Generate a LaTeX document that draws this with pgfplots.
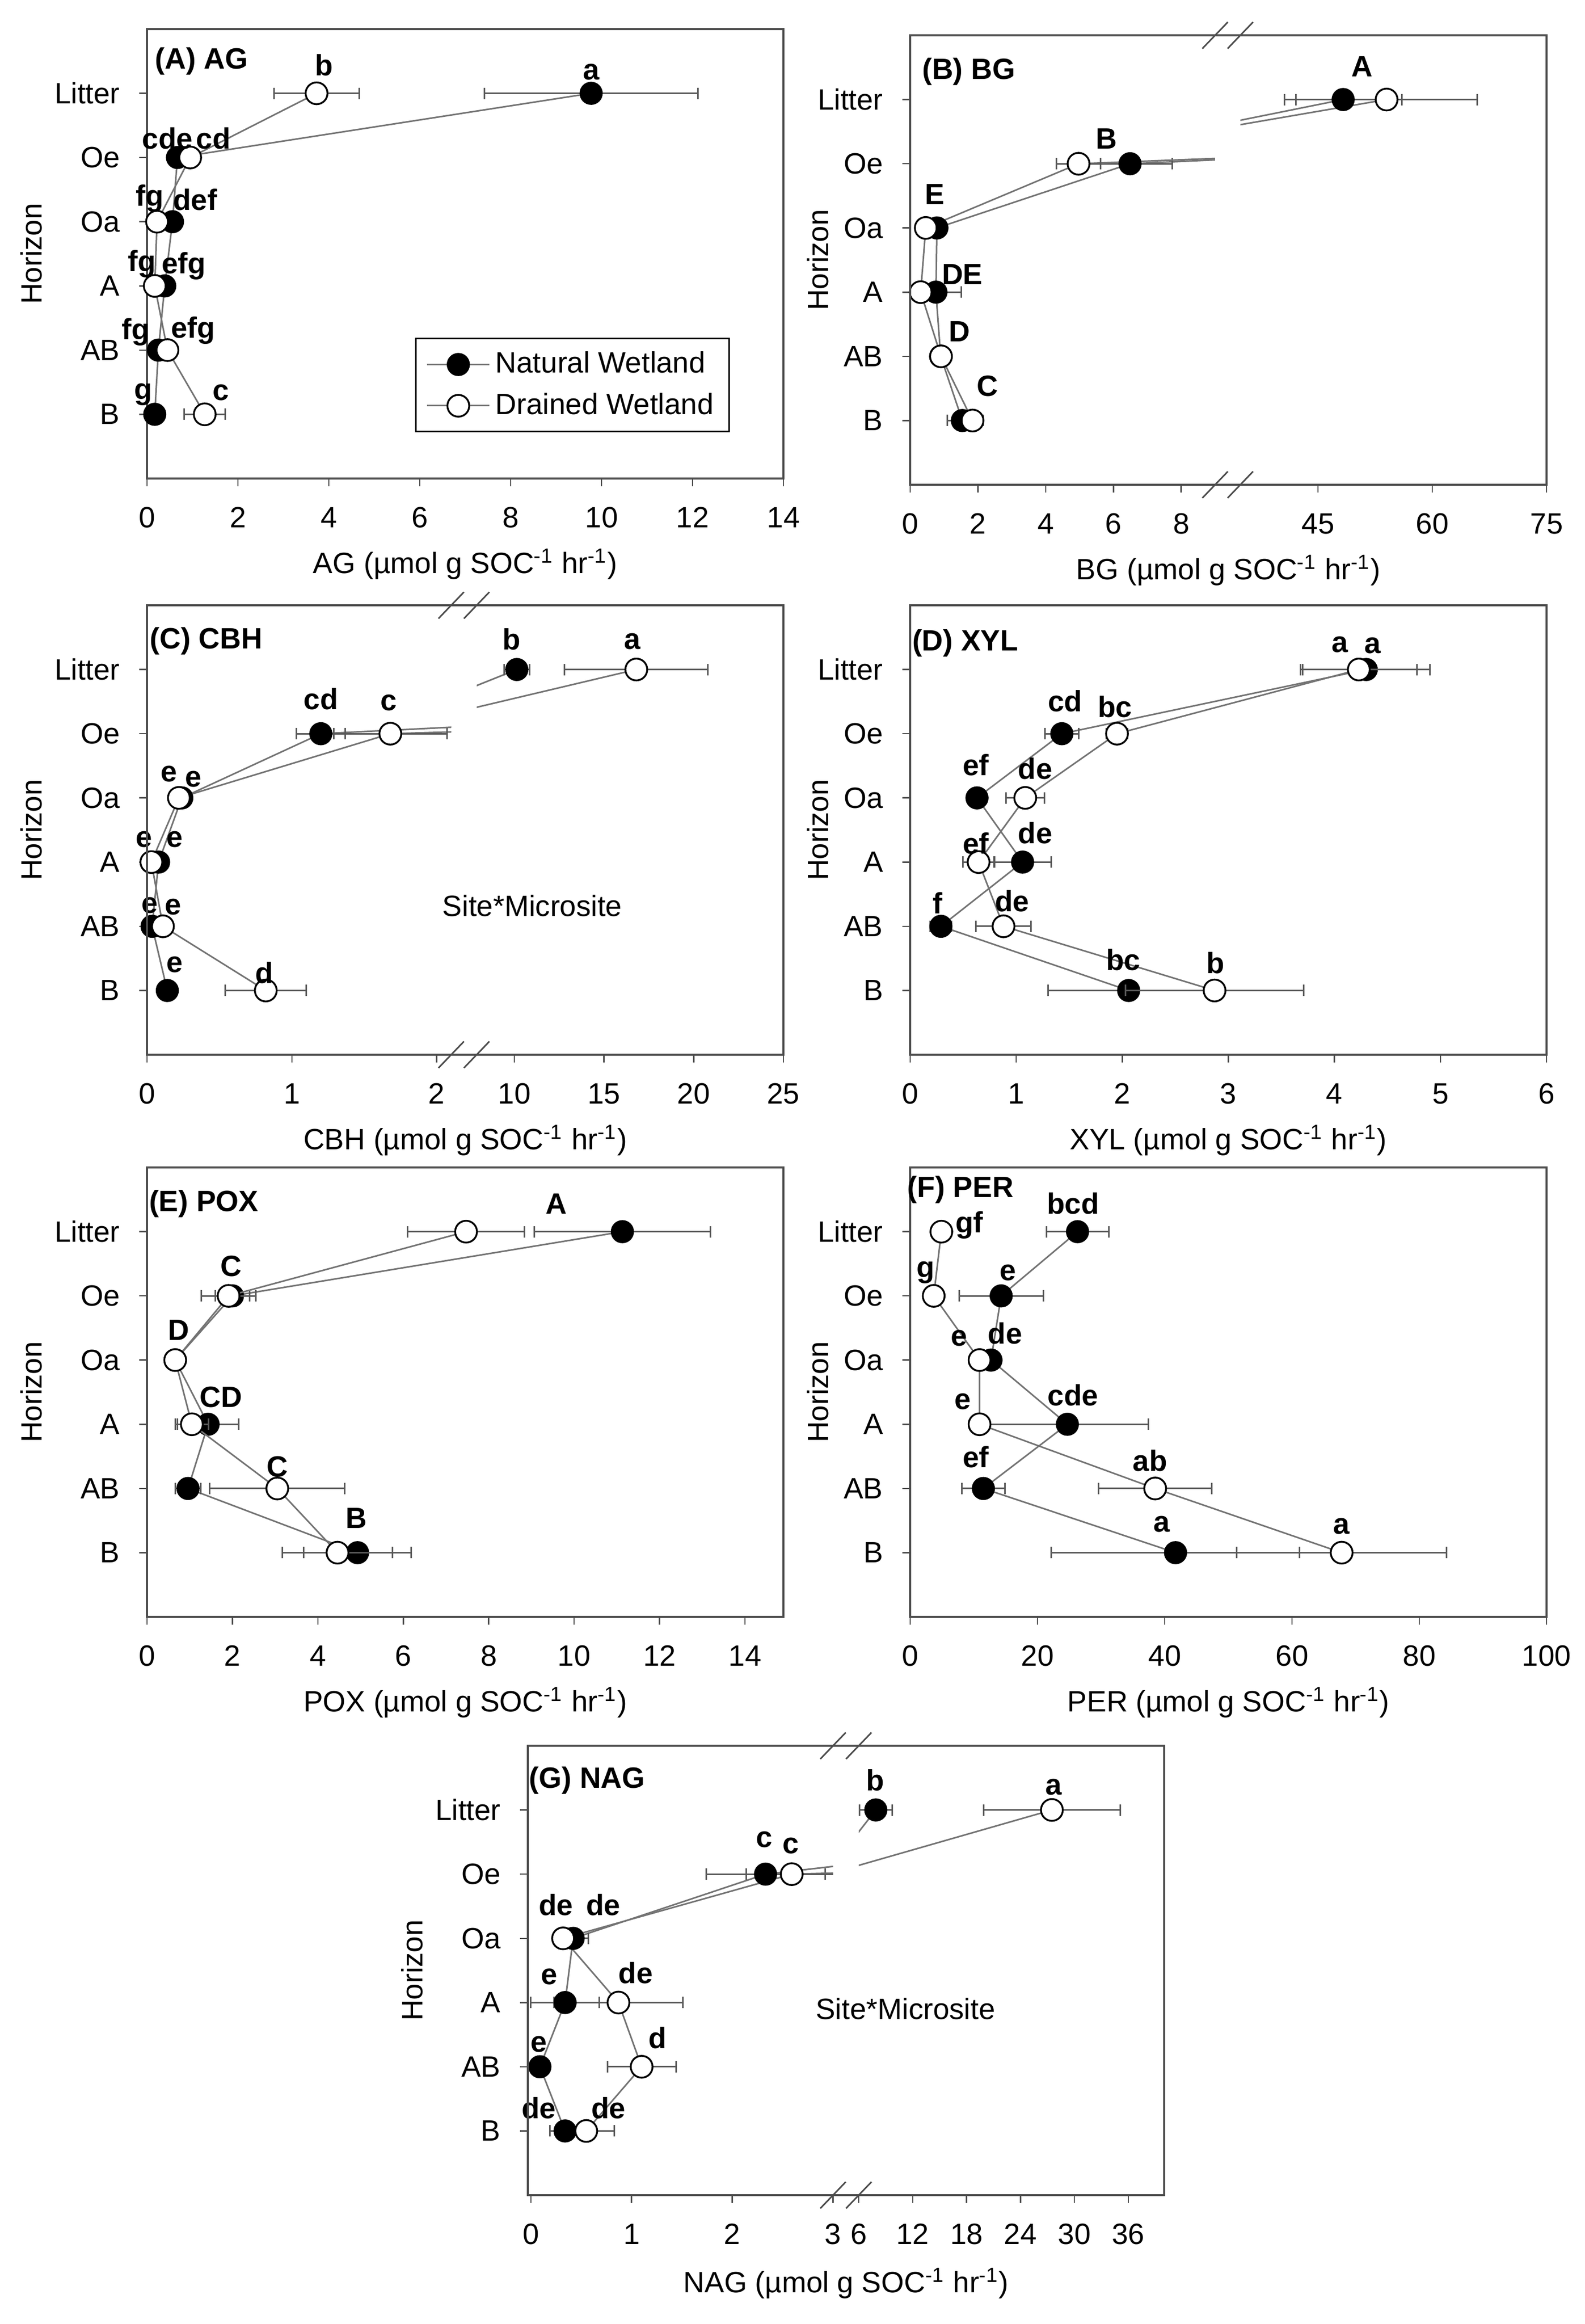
\documentclass[border=0pt]{standalone}
\usepackage{pgfplots}
\pgfplotsset{compat=1.18}
\usepackage{pgfplotstable}
\usepackage{fontspec}
\setmainfont{Liberation Sans}

\definecolor{ln}{gray}{0.45}
\definecolor{eb}{gray}{0.35}
\definecolor{fr}{gray}{0.30}

% y: 6=Litter ... 1=B ; n/ne natural wetland mean/error ; d/de drained wetland
\pgfplotstableread{
y n ne d de
6 9.77 2.35 3.73 0.94
5 0.67 0.10 0.95 0.10
4 0.56 0.08 0.22 0.05
3 0.39 0.08 0.17 0.05
2 0.25 0.05 0.45 0.10
1 0.17 0.05 1.27 0.45
}\tAG
\pgfplotstableread{
y n ne d de
6 48.3 7.7 54.0 11.9
5 6.49 1.24 4.97 0.65
4 0.79 0.10 0.46 0.10
3 0.76 0.75 0.31 0.10
2 0.90 0.10 0.91 0.10
1 1.54 0.45 1.84 0.32
}\tBG
\pgfplotstableread{
y n ne d de
6 10.14 0.70 16.8 4.0
5 1.20 0.17 1.68 0.39
4 0.24 0.03 0.22 0.03
3 0.08 0.02 0.03 0.02
2 0.035 0.02 0.11 0.02
1 0.14 0.02 0.82 0.28
}\tCBH
\pgfplotstableread{
y n ne d de
6 4.30 0.60 4.23 0.55
5 1.43 0.16 1.95 0.10
4 0.63 0.05 1.085 0.18
3 1.06 0.27 0.645 0.15
2 0.29 0.10 0.88 0.26
1 2.06 0.76 2.87 0.84
}\tXYL
\pgfplotstableread{
y n ne d de
6 11.13 2.06 7.47 1.37
5 2.00 0.40 1.91 0.64
4 0.66 0.10 0.66 0.10
3 1.43 0.72 1.05 0.39
2 0.96 0.30 3.05 1.58
1 4.93 1.26 4.46 1.29
}\tPOX
\pgfplotstableread{
y n ne d de
6 26.3 4.9 4.9 1.0
5 14.3 6.6 3.7 1.0
4 12.7 1.0 10.9 1.0
3 24.7 12.7 10.9 1.0
2 11.5 3.4 38.5 8.9
1 41.7 19.5 67.8 16.5
}\tPER
\pgfplotstableread{
y n ne d de
6 7.9 1.8 27.5 7.6
5 2.33 0.59 2.59 0.45
4 0.42 0.15 0.32 0.05
3 0.34 0.34 0.87 0.64
2 0.09 0.03 1.10 0.34
1 0.34 0.15 0.55 0.28
}\tNAG

\pgfplotsset{
  hz/.style={
    scale only axis, height=173pt, anchor=north west,
    ymin=0, ymax=7, ytick={1,...,6}, yticklabels={B,AB,A,Oa,Oe,Litter},
    tick align=outside, tick pos=left, major tick length=3pt,
    tick style={fr, line width=0.5pt},
    axis line style={fr, line width=0.8pt},
    clip mode=individual,
    /pgf/number format/assume math mode=true,
    xticklabel style={anchor=center, yshift=-12pt},
    yticklabel style={anchor=east, xshift=-3.5pt},
  },
  ebar/.style={error bars/x dir=both, error bars/x explicit,
    error bars/error bar style={eb, line width=0.6pt},
    error bars/error mark options={rotate=90, eb, mark size=2.2pt, line width=0.6pt}},
  natm/.style={mark=*, mark size=4.2pt, mark options={draw=black, fill=black, line width=0.5pt, solid}},
  dram/.style={mark=*, mark size=4.2pt, mark options={draw=black, fill=white, line width=0.7pt, solid}},
  nat/.style={ln, line width=0.6pt, natm, ebar},
  dra/.style={ln, line width=0.6pt, dram, ebar},
  serl/.style={ln, line width=0.6pt, no markers, ebar},
  natp/.style={only marks, natm},
  drap/.style={only marks, dram},
}

\newcommand{\lt}[3]{\node[font=\bfseries, inner sep=0pt] at (axis cs:#1,#2) {#3};}
\newcommand{\ttl}[3]{\node[font=\bfseries, anchor=west, inner sep=0pt] at (rel axis cs:#1,#2) {#3};}
\newcommand{\serlines}[1]{%
  \addplot[serl] table[x=n,y=y,x error=ne]{#1};
  \addplot[serl] table[x=d,y=y,x error=de]{#1};}
\newcommand{\sermarks}[2]{%
  \addplot[natp, restrict x to domain=#2] table[x=n,y=y]{#1};
  \addplot[drap, restrict x to domain=#2] table[x=d,y=y]{#1};}
\newcommand{\brk}[2]{%
  \draw[fr, line width=0.8pt] (#1.south west) rectangle (#2.north east);
  \foreach \p in {#1.north east,#1.south east,#2.north west,#2.south west}
    \draw[fr, line width=0.6pt] ([xshift=-4.9pt,yshift=-5.1pt]\p) -- ([xshift=4.9pt,yshift=5.1pt]\p);}
\newcommand{\unit}{(µmol g SOC\textsuperscript{-1} hr\textsuperscript{-1})}

\begin{document}
\fontsize{11.3}{13.5}\selectfont
\begin{tikzpicture}
\useasboundingbox (0,0) rectangle (610.2pt,-894.6pt);

% ---------- (A) AG
\begin{axis}[hz, at={(56.6pt,-11.2pt)}, width=245pt,
  xmin=0, xmax=14, xtick={0,2,...,14},
  legend style={at={(axis cs:5.9,2.19)}, anchor=north west, draw=black,
    line width=0.6pt, inner xsep=4pt, inner ysep=3pt, row sep=2pt,
    cells={anchor=west}},
  legend image code/.code={\draw[mark repeat=2,mark phase=2,#1]
    plot coordinates {(0pt,0pt) (12pt,0pt) (24pt,0pt)};}]
\addplot[nat] table[x=n,y=y,x error=ne]{\tAG};
\addplot[dra] table[x=d,y=y,x error=de]{\tAG};
\legend{Natural Wetland,Drained Wetland}
\ttl{0.012}{0.929}{(A) AG}
\lt{3.89}{6.44}{b} \lt{9.77}{6.33}{a}
\lt{0.45}{5.30}{cde} \lt{1.46}{5.30}{cd}
\lt{0.06}{4.36}{fg} \lt{1.06}{4.34}{def}
\lt{-0.11}{3.34}{fg} \lt{0.81}{3.31}{efg}
\lt{-0.25}{2.28}{fg} \lt{1.01}{2.31}{efg}
\lt{-0.08}{1.31}{g} \lt{1.62}{1.34}{c}
\end{axis}
\node at (179.1pt,-217.2pt) {AG \unit};
\node[rotate=90] at (12.1pt,-97.7pt) {Horizon};

% ---------- (B) BG (broken axis)
\begin{axis}[hz, name=BL, at={(350.4pt,-13.6pt)}, width=117.4pt,
  xmin=0, xmax=9, xtick={0,2,4,6,8}, axis line style={draw=none}]
\serlines{\tBG}
\sermarks{\tBG}{0:9}
\ttl{0.038}{0.919}{(B) BG}
\lt{5.79}{5.39}{B} \lt{0.72}{4.52}{E} \lt{1.54}{3.28}{DE}
\lt{1.46}{2.39}{D} \lt{2.28}{1.54}{C}
\end{axis}
\begin{axis}[hz, name=BR, at={(477.5pt,-13.6pt)}, width=117.9pt,
  xmin=34.8, xmax=75, xtick={45,60,75}, ytick=\empty, axis line style={draw=none}]
\serlines{\tBG}
\sermarks{\tBG}{34.8:75}
\lt{50.8}{6.51}{A}
\end{axis}
\brk{BL}{BR}
\node at (472.9pt,-219.6pt) {BG \unit};
\node[rotate=90] at (314.9pt,-100.1pt) {Horizon};

% ---------- (C) CBH (broken axis)
\begin{axis}[hz, name=CL, at={(56.6pt,-233pt)}, width=117.1pt,
  xmin=0, xmax=2.1, xtick={0,1,2}, axis line style={draw=none}]
\serlines{\tCBH}
\sermarks{\tCBH}{0:2.1}
\ttl{0.008}{0.92}{(C) CBH}
\lt{1.20}{5.54}{cd} \lt{1.67}{5.48}{c}
\lt{0.15}{4.37}{e} \lt{0.32}{4.29}{e}
\lt{-0.02}{3.35}{e} \lt{0.19}{3.35}{e}
\lt{0.02}{2.33}{e} \lt{0.18}{2.30}{e}
\lt{0.19}{1.40}{e} \lt{0.81}{1.28}{d}
\end{axis}
\begin{axis}[hz, name=CR, at={(183.5pt,-233pt)}, width=118.1pt,
  xmin=7.9, xmax=25, xtick={10,15,20,25}, ytick=\empty, axis line style={draw=none}]
\serlines{\tCBH}
\sermarks{\tCBH}{7.9:25}
\lt{9.86}{6.47}{b} \lt{16.57}{6.44}{a}
\node at (axis cs:11.0,2.32) {Site*Microsite};
\end{axis}
\brk{CL}{CR}
\node at (179.1pt,-439pt) {CBH \unit};
\node[rotate=90] at (12.1pt,-319.5pt) {Horizon};

% ---------- (D) XYL
\begin{axis}[hz, at={(350.4pt,-233pt)}, width=245pt,
  xmin=0, xmax=6, xtick={0,...,6}]
\addplot[nat] table[x=n,y=y,x error=ne]{\tXYL};
\addplot[dra] table[x=d,y=y,x error=de]{\tXYL};
\ttl{0.0025}{0.916}{(D) XYL}
\lt{4.05}{6.39}{a} \lt{4.36}{6.37}{a}
\lt{1.46}{5.51}{cd} \lt{1.93}{5.42}{bc}
\lt{0.62}{4.51}{ef} \lt{1.18}{4.46}{de}
\lt{0.62}{3.29}{ef} \lt{1.18}{3.45}{de}
\lt{0.26}{2.36}{f} \lt{0.96}{2.39}{de}
\lt{2.01}{1.48}{bc} \lt{2.88}{1.43}{b}
\end{axis}
\node at (472.9pt,-439pt) {XYL \unit};
\node[rotate=90] at (314.9pt,-319.5pt) {Horizon};

% ---------- (E) POX
\begin{axis}[hz, at={(56.6pt,-449.4pt)}, width=245pt,
  xmin=0, xmax=14.9, xtick={0,2,...,14}]
\addplot[nat] table[x=n,y=y,x error=ne]{\tPOX};
\addplot[dra] table[x=d,y=y,x error=de]{\tPOX};
\ttl{0.0025}{0.919}{(E) POX}
\lt{9.58}{6.43}{A} \lt{1.97}{5.46}{C} \lt{0.74}{4.47}{D}
\lt{1.73}{3.42}{CD} \lt{3.05}{2.34}{C} \lt{4.90}{1.54}{B}
\end{axis}
\node at (179.1pt,-655.4pt) {POX \unit};
\node[rotate=90] at (12.1pt,-535.9pt) {Horizon};

% ---------- (F) PER
\begin{axis}[hz, at={(350.4pt,-449.4pt)}, width=245pt,
  xmin=0, xmax=100, xtick={0,20,...,100}]
\addplot[nat] table[x=n,y=y,x error=ne]{\tPER};
\addplot[dra] table[x=d,y=y,x error=de]{\tPER};
\ttl{-0.005}{0.95}{(F) PER}
\lt{9.3}{6.10}{gf} \lt{25.6}{6.44}{bcd}
\lt{2.4}{5.36}{g} \lt{15.4}{5.36}{e}
\lt{7.7}{4.34}{e} \lt{14.9}{4.42}{de}
\lt{8.3}{3.35}{e} \lt{25.6}{3.45}{cde}
\lt{10.3}{2.49}{ef} \lt{37.7}{2.43}{ab}
\lt{39.5}{1.44}{a} \lt{67.8}{1.41}{a}
\end{axis}
\node at (472.9pt,-655.4pt) {PER \unit};
\node[rotate=90] at (314.9pt,-535.9pt) {Horizon};

% ---------- (G) NAG (broken axis)
\begin{axis}[hz, name=GL, at={(203.2pt,-672pt)}, width=117.5pt,
  xmin=-0.03, xmax=3, xtick={0,1,2,3}, axis line style={draw=none}]
\serlines{\tNAG}
\sermarks{\tNAG}{-0.03:3}
\ttl{0.003}{0.923}{(G) NAG}
\lt{2.32}{5.54}{c} \lt{2.58}{5.44}{c}
\lt{0.25}{4.52}{de} \lt{0.72}{4.52}{de}
\lt{0.18}{3.40}{e} \lt{1.04}{3.46}{de}
\lt{0.08}{2.35}{e} \lt{1.26}{2.45}{d}
\lt{0.08}{1.36}{de} \lt{0.77}{1.36}{de}
\end{axis}
\begin{axis}[hz, name=GR, at={(330.6pt,-672pt)}, width=117.6pt,
  xmin=6, xmax=40, xtick={6,12,...,36}, ytick=\empty, axis line style={draw=none}]
\serlines{\tNAG}
\sermarks{\tNAG}{6:40}
\lt{7.82}{6.46}{b} \lt{27.7}{6.36}{a}
\node at (axis cs:11.2,2.9) {Site*Microsite};
\end{axis}
\brk{GL}{GR}
\node at (325.7pt,-879pt) {NAG \unit};
\node[rotate=90] at (158.7pt,-758.5pt) {Horizon};
\end{tikzpicture}
\end{document}
